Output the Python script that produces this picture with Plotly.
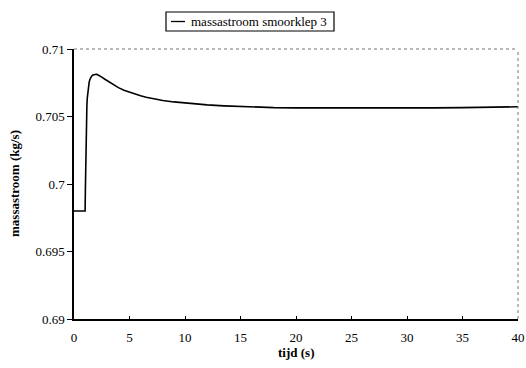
import plotly.graph_objects as go

# time (s)
tijd = [0, 1.0, 1.03, 1.06, 1.09, 1.12, 1.16, 1.2, 1.25, 1.3, 1.37, 1.45, 1.53, 1.6, 1.7,
        1.8, 1.9, 2.0, 2.1, 2.2, 2.35, 2.5, 2.75, 3.0, 3.25, 3.5, 3.75, 4, 4.5, 5, 5.5,
        6, 6.5, 7, 7.5, 8, 9, 10, 11, 12, 13.5, 15, 16.5, 18, 20, 22.5, 25, 27.5, 30,
        32.5, 35, 37.5, 40]
# mass flow (kg/s)
massastroom = [0.698, 0.698, 0.6998, 0.7018, 0.7036, 0.7049, 0.7058, 0.7064, 0.7069,
               0.70725, 0.70757, 0.70778, 0.70792, 0.70800, 0.70807, 0.70811, 0.70813,
               0.70813, 0.70811, 0.70807, 0.70800, 0.70792, 0.70778, 0.70764, 0.70750,
               0.70737, 0.70725, 0.70714, 0.70695, 0.70679, 0.70665, 0.70653, 0.70643,
               0.70634, 0.70626, 0.70619, 0.70608, 0.70599, 0.70592, 0.70586, 0.70579,
               0.70573, 0.70569, 0.70566, 0.70564, 0.70563, 0.70562, 0.70562, 0.70563,
               0.70564, 0.70566, 0.70569, 0.70572]

series_name = "massastroom smoorklep 3"
x_title = "tijd (s)"
y_title = "massastroom (kg/s)"
x_ticks = [0, 5, 10, 15, 20, 25, 30, 35, 40]
y_ticks = [0.69, 0.695, 0.7, 0.705, 0.71]
y_tick_labels = ["0.69", "0.695", "0.7", "0.705", "0.71"]

font_family = "Liberation Serif, Times New Roman, serif"

W, H = 526, 368
ML, MR, MT, MB = 74, 8, 49, 49
PW, PH = W - ML - MR, H - MT - MB


def px(xp):
    return (xp - ML) / PW


def py(yp):
    return (H - MB - yp) / PH


fig = go.Figure()
fig.add_trace(go.Scatter(
    x=tijd, y=massastroom, mode="lines", name=series_name,
    line=dict(color="black", width=1.6), showlegend=False,
))

fig.update_layout(
    width=W, height=H,
    margin=dict(l=ML, r=MR, t=MT, b=MB, autoexpand=False),
    paper_bgcolor="white", plot_bgcolor="white",
    font=dict(family=font_family, size=13, color="black"),
    showlegend=False,
    xaxis=dict(
        range=[0, 40], tickvals=x_ticks, ticks="inside", ticklen=3,
        tickcolor="black", showline=True, linecolor="black", linewidth=1.5,
        showgrid=False, zeroline=False, tickangle=0, ticklabelstandoff=6,
        tickfont=dict(family=font_family, size=13),
    ),
    yaxis=dict(
        range=[0.69, 0.71], tickvals=y_ticks, ticktext=y_tick_labels,
        ticks="outside", ticklen=5, tickcolor="black",
        showline=True, linecolor="black", linewidth=1.5,
        showgrid=False, zeroline=False,
        tickfont=dict(family=font_family, size=13),
    ),
    shapes=[
        # dotted top/right frame
        dict(type="line", xref="paper", yref="paper", x0=0, x1=1, y0=1, y1=1,
             line=dict(color="#777777", width=1, dash="dot")),
        dict(type="line", xref="paper", yref="paper", x0=1, x1=1, y0=0, y1=1,
             line=dict(color="#777777", width=1, dash="dot")),
        # legend box and line sample
        dict(type="rect", xref="paper", yref="paper", x0=px(166), x1=px(334),
             y0=py(31), y1=py(12), line=dict(color="black", width=1.2),
             fillcolor="white"),
        dict(type="line", xref="paper", yref="paper", x0=px(171), x1=px(185),
             y0=py(21.5), y1=py(21.5), line=dict(color="black", width=1.3)),
    ],
    annotations=[
        dict(text=series_name, xref="paper", yref="paper", x=px(189), y=py(21.5),
             xanchor="left", yanchor="middle", showarrow=False,
             font=dict(family=font_family, size=13, color="black")),
        dict(text="<b>" + x_title + "</b>", xref="paper", yref="paper",
             x=0.5, y=py(352), xanchor="center", yanchor="middle", showarrow=False,
             font=dict(family=font_family, size=13, color="black")),
        dict(text="<b>" + y_title + "</b>", xref="paper", yref="paper",
             x=px(14), y=0.5, xanchor="center", yanchor="middle", showarrow=False,
             textangle=-90,
             font=dict(family=font_family, size=13, color="black")),
    ],
)

fig.write_html("out.html")
